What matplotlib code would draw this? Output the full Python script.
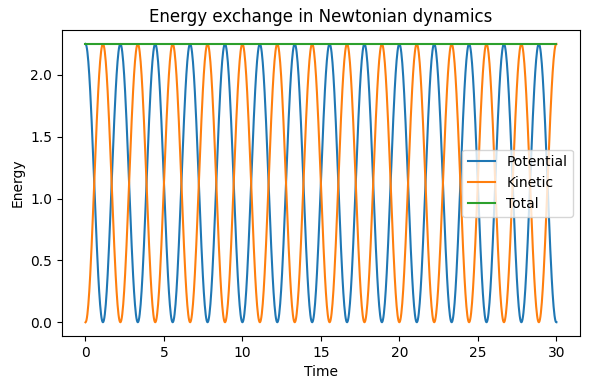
import matplotlib
matplotlib.use("Agg")
import matplotlib.pyplot as plt
import numpy as np


# model: total energy 2.25, potential peaks every ~2.22 time units
t_span = [0.0, 30.0]
n_samples = 1000
mass = 1.0
spring_k = 2.0
x0 = 1.5
series_labels = ["Potential", "Kinetic", "Total"]


def main():
    t = np.linspace(t_span[0], t_span[1], n_samples)
    omega = np.sqrt(spring_k / mass)

    x = x0 * np.cos(omega * t)
    v = -x0 * omega * np.sin(omega * t)

    potential = 0.5 * spring_k * x ** 2
    kinetic = 0.5 * mass * v ** 2
    total = potential + kinetic

    fig, ax = plt.subplots(figsize=(5.9, 3.9), dpi=100)

    ax.plot(t, potential, label=series_labels[0])
    ax.plot(t, kinetic, label=series_labels[1])
    ax.plot(t, total, label=series_labels[2])

    ax.set_xlabel("Time")
    ax.set_ylabel("Energy")
    ax.set_title("Energy exchange in Newtonian dynamics")
    ax.legend(loc="center right")

    fig.subplots_adjust(left=0.105, right=0.983, top=0.923, bottom=0.138)
    fig.savefig("out.png", dpi=100)
    plt.close(fig)


if __name__ == "__main__":
    main()
